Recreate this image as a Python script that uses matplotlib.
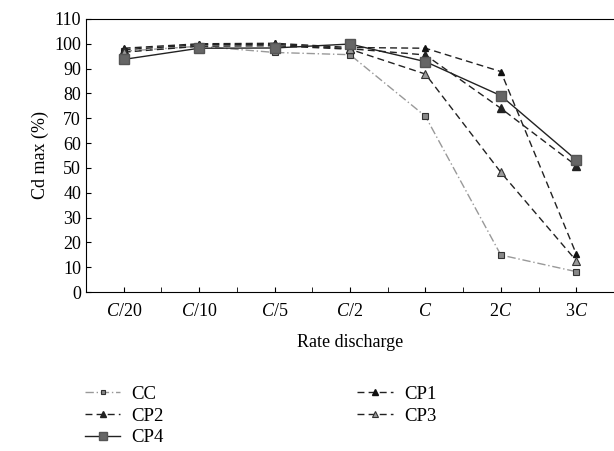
import matplotlib
matplotlib.use("Agg")
import matplotlib.pyplot as plt

plt.rcParams['font.family'] = ['Liberation Serif', 'DejaVu Serif']
plt.rcParams['mathtext.fontset'] = 'custom'
plt.rcParams['mathtext.rm'] = 'Liberation Serif'
plt.rcParams['mathtext.it'] = 'Liberation Serif:italic'

rates = ['$C$/20', '$C$/10', '$C$/5', '$C$/2', '$C$', '2$C$', '3$C$']
cc = [97.0, 99.0, 96.5, 95.6, 70.8, 14.9, 8.2]
cp1 = [98.2, 100.0, 100.2, 98.5, 98.2, 88.8, 15.3]
cp2 = [97.6, 99.6, 99.8, 98.0, 95.5, 74.0, 50.9]
cp3 = [96.6, 99.0, 99.2, 97.8, 87.8, 48.2, 12.6]
cp4 = [93.7, 98.2, 98.3, 99.9, 92.8, 79.1, 53.2]

fig = plt.figure(figsize=(6.14, 4.51), dpi=100)
ax = fig.add_axes([0.140, 0.3525, 0.86, 0.6055])

x = range(len(rates))
h_cc, = ax.plot(x, cc, color='#999999', ls=(0, (6, 2, 1, 2)), lw=1.0,
                marker='s', ms=4.5, mfc='#888888', mec='#333333', mew=0.8, label='CC')
h_cp1, = ax.plot(x, cp1, color='#222222', ls=(0, (5, 3)), lw=1.0,
                 marker='^', ms=5, mfc='#111111', mec='#111111', label='CP1')
h_cp2, = ax.plot(x, cp2, color='#222222', ls=(0, (5, 3)), lw=1.0,
                 marker='^', ms=6, mfc='#222222', mec='#222222', label='CP2')
h_cp3, = ax.plot(x, cp3, color='#222222', ls=(0, (5, 3)), lw=1.0,
                 marker='^', ms=6, mfc='#999999', mec='#333333', mew=0.8, label='CP3')
h_cp4, = ax.plot(x, cp4, color='#222222', ls='-', lw=1.0,
                 marker='s', ms=7, mfc='#666666', mec='#555555', label='CP4')

ax.set_xlim(-0.5, 6.5)
ax.set_ylim(0, 110)
ax.set_yticks(range(0, 111, 10))
ax.set_xticks(list(x))
ax.set_xticks([i + 0.5 for i in range(-1, 7)], minor=True)
ax.set_xticklabels(rates)
ax.tick_params(axis='both', which='both', direction='in', labelsize=13)
ax.tick_params(axis='x', which='minor', length=3.5)
ax.tick_params(axis='x', which='major', length=3.5, pad=8)
ax.spines['right'].set_visible(False)
ax.set_xlabel('Rate discharge', fontsize=13, labelpad=10)
ax.set_ylabel('Cd max (%)', fontsize=13)

fig.legend(handles=[h_cc, h_cp2, h_cp4, h_cp1, h_cp3], ncol=2,
           loc='upper left', bbox_to_anchor=(0.138, 0.145), frameon=False,
           fontsize=13.5, handlelength=1.9, columnspacing=10.3,
           labelspacing=0.25, handletextpad=0.6, markerscale=0.75,
           borderpad=0, borderaxespad=0)

fig.savefig('out.png', dpi=100)
